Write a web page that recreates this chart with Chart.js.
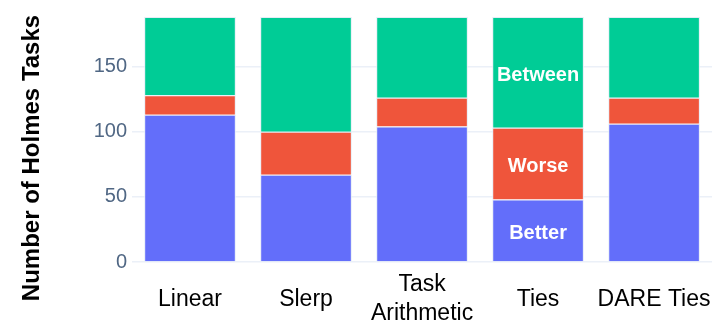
<!DOCTYPE html>
<html>
<head>
<meta charset="utf-8">
<script src="https://cdn.jsdelivr.net/npm/chart.js@4"></script>
<style>
  html, body { margin: 0; padding: 0; background: #fff; }
  #wrap { width: 726px; height: 330px; }
</style>
</head>
<body>
<div id="wrap"><canvas id="myChart" width="726" height="330"></canvas></div>
<script>
var categories = ['Linear', 'Slerp', ['Task', 'Arithmetic'], 'Ties', 'DARE Ties'];
var better = [113, 67, 104, 48, 106];
var worse = [15, 33, 22, 55, 20];
var between = [60, 88, 62, 85, 62];
var yTicks = [0, 50, 100, 150];
var labelledBar = 3; // Ties bar carries the segment names

// draws the y title and the segment names inside the Ties bar
var extras = {
    id: 'extras',
    afterDatasetsDraw: function(chart) {
        var ctx = chart.ctx;
        ctx.save();
        ctx.fillStyle = '#ffffff';
        ctx.font = 'bold 20px "Liberation Sans", Arial, sans-serif';
        ctx.textAlign = 'center';
        ctx.textBaseline = 'middle';
        chart.data.datasets.forEach(function(ds, i) {
            var el = chart.getDatasetMeta(i).data[labelledBar];
            ctx.fillText(ds.label, el.x, (el.y + el.base) / 2 + 3);
        });
        ctx.restore();

        ctx.save();
        ctx.translate(32, 158);
        ctx.rotate(-Math.PI / 2);
        ctx.fillStyle = '#000000';
        ctx.font = 'bold 24px "Liberation Sans", Arial, sans-serif';
        ctx.textAlign = 'center';
        ctx.textBaseline = 'middle';
        ctx.fillText('Number of Holmes Tasks', 0, 0);
        ctx.restore();
    }
};

var ctx = document.getElementById('myChart').getContext('2d');
var chart = new Chart(ctx, {
    type: 'bar',
    data: {
        labels: categories,
        datasets: [{
            label: 'Better',
            backgroundColor: '#636EFA',
            data: better
        },
        {
            label: 'Worse',
            backgroundColor: '#EF553B',
            data: worse
        },
        {
            label: 'Between',
            backgroundColor: '#00CC96',
            data: between
        }]
    },
    plugins: [extras],
    options: {
        responsive: false,
        animation: false,
        layout: { padding: { top: 17, right: 5, left: 0, bottom: 0 } },
        datasets: {
            bar: {
                categoryPercentage: 1,
                barPercentage: 0.79,
                borderWidth: 1,
                borderColor: '#E5ECF6'
            }
        },
        plugins: {
            legend: { display: false },
            tooltip: { enabled: false }
        },
        scales: {
            x: {
                stacked: true,
                grid: { display: false },
                border: { display: false },
                ticks: {
                    color: '#000000',
                    font: { family: '"Liberation Sans", Arial, sans-serif', size: 23, lineHeight: 1.26 },
                    padding: 15,
                    crossAlign: 'center',
                    maxRotation: 0,
                    autoSkip: false
                },
                afterFit: function(scale) { scale.height = 68; }
            },
            y: {
                stacked: true,
                min: 0,
                max: 188,
                grid: { color: '#EBF0F8', lineWidth: 1.5, drawTicks: false },
                border: { display: false },
                ticks: {
                    color: '#506784',
                    font: { family: '"Liberation Sans", Arial, sans-serif', size: 20 },
                    padding: 5,
                    stepSize: 50
                },
                afterBuildTicks: function(scale) {
                    scale.ticks = yTicks.map(function(v) { return { value: v }; });
                },
                afterFit: function(scale) { scale.width = 132; }
            }
        }
    }
});
</script>
</body>
</html>
